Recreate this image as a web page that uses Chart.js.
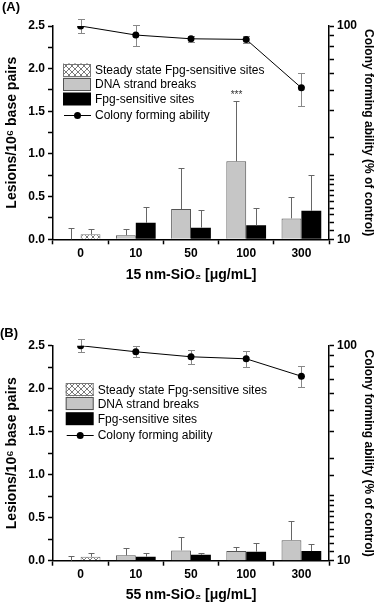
<!DOCTYPE html>
<html><head><meta charset="utf-8">
<script src="https://cdn.jsdelivr.net/npm/chart.js@4.4.0/dist/chart.umd.min.js"></script>
<style>
html,body{margin:0;padding:0;background:#fff;}
body{width:376px;height:606px;position:relative;overflow:hidden;font-family:"Liberation Sans",Arial,sans-serif;}
.wrap{position:absolute;left:0;width:376px;}
#wa{top:0;height:290px;}
#wb{top:290px;height:316px;}
.plabel{position:absolute;font-weight:bold;font-size:13px;line-height:14px;color:#000;}
</style></head><body>
<div class="wrap" id="wa"><canvas id="ca" width="376" height="290"></canvas></div>
<div class="wrap" id="wb"><canvas id="cb" width="376" height="316"></canvas></div>
<div class="plabel" style="left:2px;top:0px;">(A)</div>
<div class="plabel" style="left:0px;top:326px;">(B)</div>
<script>
// ---------- data ----------
const categories = ['0', '10', '50', '100', '300'];
const legendLabels = ['Steady state Fpg-sensitive sites', 'DNA strand breaks', 'Fpg-sensitive sites', 'Colony forming ability'];
const leftTicks = [0, 0.5, 1.0, 1.5, 2.0, 2.5];
const rightTicks = [10, 100];

// Panel A (15 nm)
const steadyA    = [0.058, null, null, null, null];
const steadyErrA = [0.058, null, null, null, null];
const dnaA       = [0, 0.047, 0.355, 0.915, 0.245];
const dnaErrA    = [0.135, 0.076, 0.475, 0.705, 0.245];
const fpgA       = [null, 0.193, 0.136, 0.164, 0.334];
const fpgErrA    = [null, 0.185, 0.204, 0.202, 0.416];
const cfaA       = [100, 90.7, 87.1, 86.5, 51.3];
const cfaErrA    = [7.6, 10, 2.7, 3.6, 9.2];
const sigA       = [null, null, null, '***', null];

// Panel B (55 nm)
const steadyB    = [0.046, null, null, null, null];
const steadyErrB = [0.046, null, null, null, null];
const dnaB       = [0, 0.062, 0.12, 0.112, 0.239];
const dnaErrB    = [0.054, 0.088, 0.16, 0.05, 0.219];
const fpgB       = [null, 0.046, 0.069, 0.104, 0.112];
const fpgErrB    = [null, 0.046, 0.016, 0.1, 0.084];
const cfaB       = [100, 93.7, 88.8, 86.9, 72.1];
const cfaErrB    = [7, 5.5, 6.5, 7.5, 8.1];
const sigB       = [null, null, null, null, null];

// ---------- styling ----------
Chart.defaults.font.family = '"Liberation Sans", Arial, sans-serif';
Chart.defaults.color = '#000';

function makeHatch() {
  const c = document.createElement('canvas'); c.width = 6; c.height = 6;
  const g = c.getContext('2d');
  g.fillStyle = '#fff'; g.fillRect(0, 0, 6, 6);
  g.strokeStyle = '#7a7a7a'; g.lineWidth = 1;
  g.beginPath(); g.moveTo(0, 0); g.lineTo(6, 6); g.moveTo(6, 0); g.lineTo(0, 6); g.stroke();
  return g.createPattern(c, 'repeat');
}

function drawBarErrors(chart, idx) {
  const ds = chart.data.datasets[idx];
  if (!ds.errors || ds.type === 'line') return;
  const meta = chart.getDatasetMeta(idx);
  const sc = chart.scales[meta.yAxisID];
  const ctx = chart.ctx;
  ctx.save();
  ctx.strokeStyle = '#666'; ctx.lineWidth = 1;
  meta.data.forEach((el, j) => {
    const v = ds.data[j], e = ds.errors[j];
    if (v == null || e == null) return;
    const x = Math.round(el.x) + 0.5;
    const y0 = el.y;
    const y1 = Math.round(sc.getPixelForValue(v + e)) + 0.5;
    ctx.beginPath();
    ctx.moveTo(x, y0); ctx.lineTo(x, y1);
    ctx.moveTo(x - 3, y1); ctx.lineTo(x + 3, y1);
    ctx.stroke();
    if (ds.sig && ds.sig[j]) {
      ctx.fillStyle = '#333';
      ctx.font = '10px "Liberation Sans", Arial, sans-serif';
      ctx.textAlign = 'center'; ctx.textBaseline = 'bottom';
      ctx.fillText(ds.sig[j], x, y1 - 1);
    }
  });
  ctx.restore();
}

function drawLineErrors(chart, idx) {
  const ds = chart.data.datasets[idx];
  if (!ds.errors || ds.type !== 'line') return;
  const meta = chart.getDatasetMeta(idx);
  const sc = chart.scales[meta.yAxisID];
  const ctx = chart.ctx;
  ctx.save();
  ctx.strokeStyle = '#888'; ctx.lineWidth = 1;
  meta.data.forEach((el, j) => {
    const v = ds.data[j], e = ds.errors[j];
    if (v == null || e == null) return;
    const x = Math.round(el.x) + 0.5;
    const yt = Math.round(sc.getPixelForValue(v + e)) + 0.5;
    const yb = Math.round(sc.getPixelForValue(v - e)) + 0.5;
    ctx.beginPath();
    ctx.moveTo(x, yt); ctx.lineTo(x, yb);
    ctx.moveTo(x - 3.5, yt); ctx.lineTo(x + 3.5, yt);
    ctx.moveTo(x - 3.5, yb); ctx.lineTo(x + 3.5, yb);
    ctx.stroke();
  });
  ctx.restore();
}

const errPlugin = {
  id: 'errbars',
  beforeDatasetDraw(chart, args) { drawLineErrors(chart, args.index); },
  afterDatasetDraw(chart, args) { drawBarErrors(chart, args.index); }
};

const boxLegend = {
  id: 'boxLegend',
  afterDraw(chart, args, opts) {
    const ctx = chart.ctx;
    const a = chart.chartArea;
    const x0 = a.left + opts.dx;
    const rows = opts.rows;
    const order = opts.order;
    ctx.save();
    ctx.font = '12px "Liberation Sans", Arial, sans-serif';
    ctx.textBaseline = 'middle'; ctx.textAlign = 'left';
    order.forEach((di, k) => {
      const ds = chart.data.datasets[di];
      const yc = a.top + rows[k];
      if (ds.type === 'line') {
        ctx.strokeStyle = '#000'; ctx.lineWidth = 1;
        ctx.beginPath(); ctx.moveTo(x0 + 1, Math.round(yc) + 0.5); ctx.lineTo(x0 + 28, Math.round(yc) + 0.5); ctx.stroke();
        ctx.fillStyle = '#000';
        ctx.beginPath(); ctx.arc(x0 + 14.5, Math.round(yc) + 0.5, 3.5, 0, Math.PI * 2); ctx.fill();
      } else {
        ctx.fillStyle = ds.backgroundColor;
        ctx.fillRect(x0, yc - 6.5, 28, 13);
        if (ds.borderWidth) {
          ctx.strokeStyle = ds.borderColor; ctx.lineWidth = 1;
          ctx.strokeRect(x0 + 0.5, Math.round(yc - 6.5) + 0.5, 27, 12);
        }
      }
      ctx.fillStyle = '#000';
      ctx.fillText(ds.label, x0 + 32, yc + 0.5);
    });
    ctx.restore();
  }
};

function buildPanel(canvasId, d) {
  const hatch = makeHatch();
  const ctx = document.getElementById(canvasId).getContext('2d');
  return new Chart(ctx, {
    data: {
      labels: categories,
      datasets: [
        { type: 'bar', label: legendLabels[1], data: d.dna, errors: d.dnaErr, sig: d.sig, stack: 'a',
          backgroundColor: '#c6c6c6', borderColor: '#555', borderWidth: 1, yAxisID: 'y', order: 2 },
        { type: 'bar', label: legendLabels[0], data: d.steady, errors: d.steadyErr, stack: 'b',
          backgroundColor: hatch, borderColor: '#777', borderWidth: 1, yAxisID: 'y', order: 2 },
        { type: 'bar', label: legendLabels[2], data: d.fpg, errors: d.fpgErr, stack: 'b',
          backgroundColor: '#000', borderColor: '#000', borderWidth: 0, yAxisID: 'y', order: 2 },
        { type: 'line', label: legendLabels[3], data: d.cfa, errors: d.cfaErr, yAxisID: 'y2', order: 1,
          borderColor: '#000', borderWidth: 1, pointRadius: 3.5, pointBackgroundColor: '#000',
          pointBorderColor: '#000', pointBorderWidth: 0, tension: 0, fill: false }
      ]
    },
    options: {
      responsive: false, animation: false,
      datasets: { bar: { barPercentage: 1.0, categoryPercentage: 0.72 } },
      layout: { padding: { top: d.top, left: 0, right: 0, bottom: 0 } },
      plugins: {
        legend: { display: false }, tooltip: { enabled: false },
        boxLegend: { dx: d.legendDx, rows: [44, 58, 73, 89], order: [1, 0, 2, 3] }
      },
      scales: {
        x: {
          type: 'category',
          grid: { display: true, drawOnChartArea: false, offset: true, tickLength: 5, tickColor: '#000', tickWidth: 1.5 },
          border: { display: true, color: '#000', width: 1.5 },
          ticks: { color: '#000', font: { size: 12, weight: 'bold' }, padding: 2 },
          title: { display: true, text: d.xTitle, color: '#000', font: { size: 14, weight: 'bold' }, padding: { top: 0, bottom: d.xTitlePad } },
          afterFit: s => { s.height = d.xHeight; }
        },
        y: {
          type: 'linear', position: 'left', min: 0, max: 2.5,
          grid: { display: true, drawOnChartArea: false, tickLength: 5, tickColor: '#000', tickWidth: 1.5 },
          border: { display: true, color: '#000', width: 1.5 },
          ticks: {
            stepSize: 0.25, color: '#000', font: { size: 12, weight: 'bold' }, padding: 3,
            callback: v => { const m = leftTicks.find(t => Math.abs(t - v) < 1e-6); return m === undefined ? '' : m.toFixed(1); }
          },
          title: { display: true, text: 'Lesions/10\u2076 base pairs', color: '#000', font: { size: 14, weight: 'bold' }, padding: { top: 4, bottom: 0 } },
          afterFit: s => { s.width = 53; }
        },
        y2: {
          type: 'logarithmic', position: 'right', min: 10, max: 100,
          grid: { display: true, drawOnChartArea: false, tickLength: 5, tickColor: '#000', tickWidth: 1.5 },
          border: { display: true, color: '#000', width: 1.5 },
          ticks: {
            color: '#000', font: { size: 12, weight: 'bold' }, padding: 3, autoSkip: false,
            callback: v => rightTicks.includes(Math.round(v)) && Math.abs(v - Math.round(v)) < 1e-6 ? String(Math.round(v)) : ''
          },
          title: { display: true, text: 'Colony forming ability (% of control)', color: '#000', font: { size: 12, weight: 'bold' }, padding: { top: 0, bottom: 0 } },
          afterFit: s => { s.width = 47; }
        }
      }
    },
    plugins: [errPlugin, boxLegend]
  });
}

buildPanel('ca', {
  steady: steadyA, steadyErr: steadyErrA, dna: dnaA, dnaErr: dnaErrA, fpg: fpgA, fpgErr: fpgErrA,
  cfa: cfaA, cfaErr: cfaErrA, sig: sigA,
  xTitle: '15 nm-SiO\u2082 [\u03bcg/mL]', top: 26, xHeight: 50.7, xTitlePad: 6.6, legendDx: 10
});
buildPanel('cb', {
  steady: steadyB, steadyErr: steadyErrB, dna: dnaB, dnaErr: dnaErrB, fpg: fpgB, fpgErr: fpgErrB,
  cfa: cfaB, cfaErr: cfaErrB, sig: sigB,
  xTitle: '55 nm-SiO\u2082 [\u03bcg/mL]', top: 55.7, xHeight: 45.3, xTitlePad: 2.6, legendDx: 12.7
});
</script>
</body></html>
